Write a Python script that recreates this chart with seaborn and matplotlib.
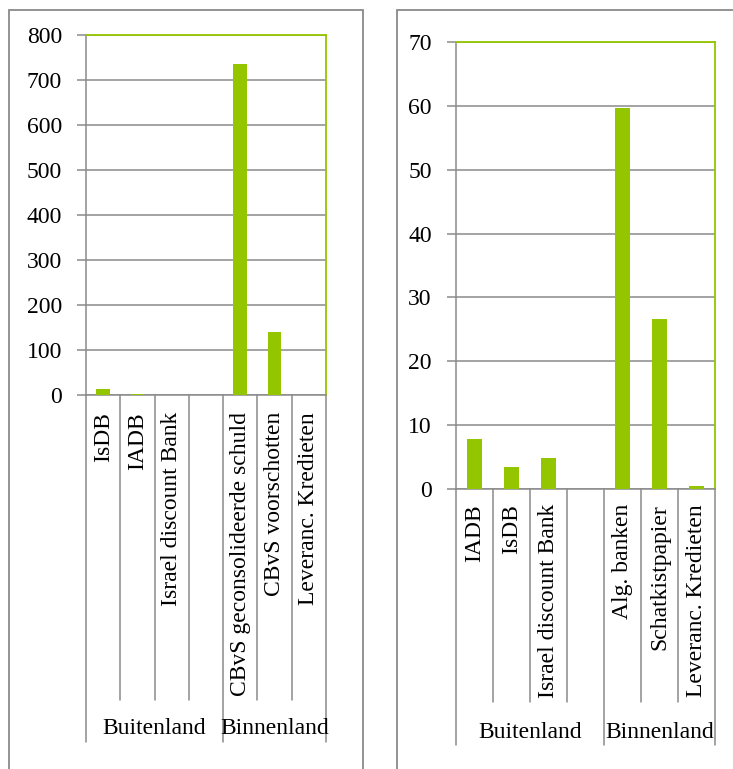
import matplotlib
matplotlib.use("Agg")
import matplotlib.pyplot as plt
import matplotlib.transforms as mtransforms
from matplotlib.patches import Rectangle
import seaborn as sns

sns.set_theme(style="white")
plt.rcParams["font.family"] = ["Liberation Serif", "DejaVu Serif"]

# ---- data ----
left_labels = ["IsDB", "IADB", "Israel discount Bank", "",
               "CBvS geconsolideerde schuld", "CBvS voorschotten", "Leveranc. Kredieten"]
left_values = [13, 2, 0.5, 0, 735, 139, 0.5]
left_ticks = [0, 100, 200, 300, 400, 500, 600, 700, 800]

right_labels = ["IADB", "IsDB", "Israel discount Bank", "",
                "Alg. banken", "Schatkistpapier", "Leveranc. Kredieten"]
right_values = [7.8, 3.5, 4.8, 0, 59.6, 26.6, 0.5]
right_ticks = [0, 10, 20, 30, 40, 50, 60, 70]

groups = ["Buitenland", "Binnenland"]
group_sizes = [4, 3]

GREEN = "#94C600"
GRAY = "#8A8A8A"
W, H = 733, 769
FS = 17

fig = plt.figure(figsize=(W / 100, H / 100), dpi=100)

# outer chart frames
for x0, x1 in [(9, 363), (397, 740)]:
    fig.patches.append(Rectangle((x0 / W, -0.02), (x1 - x0) / W, 1 - 10 / H + 0.02,
                                 transform=fig.transFigure, fill=False,
                                 edgecolor=GRAY, linewidth=1.3, zorder=0))


def draw(box, labels, values, ticks, inner_px, group_px, label_px, pad_px):
    x0, x1, ytop, ybot = box
    ax = fig.add_axes([x0 / W, 1 - ybot / H, (x1 - x0) / W, (ybot - ytop) / H])
    sns.barplot(x=labels, y=values, order=labels, color=GREEN, width=0.4,
                saturation=1, linewidth=0, ax=ax, zorder=3)
    ax.set_ylim(ticks[0], ticks[-1])
    ax.set_xlim(-0.5, len(labels) - 0.5)
    ax.set_yticks(ticks)
    ax.yaxis.grid(True, color=GRAY, linewidth=1.1)
    ax.set_axisbelow(True)
    for s in ["left", "bottom"]:
        ax.spines[s].set_color(GRAY)
        ax.spines[s].set_linewidth(1.1)
    for s in ["top", "right"]:
        ax.spines[s].set_color(GREEN)
        ax.spines[s].set_linewidth(1.3)
    ax.tick_params(axis="y", length=6.5, width=1.1, color=GRAY, pad=10.8,
                   labelsize=FS, labelcolor="black", left=True)
    ax.tick_params(axis="x", length=0, pad=pad_px * 0.72, labelsize=FS,
                   labelcolor="black", rotation=90)
    for t in ax.get_xticklabels():
        t.set_va("top")
    ax.set_xlabel("")
    ax.set_ylabel("")

    h = ybot - ytop
    trans = mtransforms.blended_transform_factory(ax.transData, ax.transAxes)
    bounds = [-0.5]
    for n in group_sizes:
        bounds.append(bounds[-1] + n)
    for i in range(len(labels) + 1):
        xb = i - 0.5
        depth = group_px if xb in bounds else inner_px
        ax.plot([xb, xb], [0, -(depth - ybot) / h], transform=trans,
                color=GRAY, linewidth=1.1, clip_on=False)
    for g, a, b in zip(groups, bounds[:-1], bounds[1:]):
        ax.text((a + b) / 2, -(label_px - ybot) / h, g, transform=trans,
                ha="center", va="center", fontsize=FS, color="black")
    return ax


draw((86, 326, 35, 395), left_labels, left_values, left_ticks,
     inner_px=700, group_px=742, label_px=728, pad_px=17)
draw((455.7, 715, 42, 489), right_labels, right_values, right_ticks,
     inner_px=702, group_px=745, label_px=732, pad_px=15)

fig.savefig("out.png", dpi=100)
